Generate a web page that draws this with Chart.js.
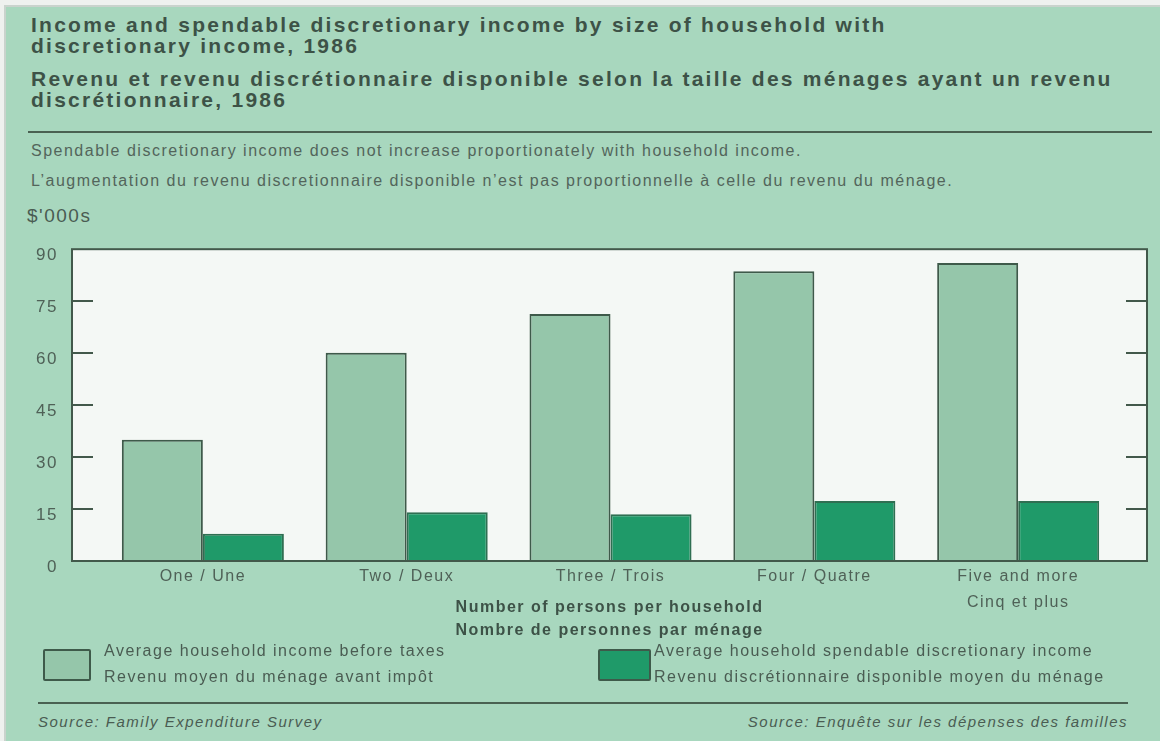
<!DOCTYPE html>
<html>
<head>
  <meta charset="UTF-8">
  <title>Income and spendable discretionary income, 1986</title>
  <script src="https://cdn.jsdelivr.net/npm/chart.js"></script>
  <style>
    html, body {
      margin: 0;
      padding: 0;
      width: 1160px;
      height: 741px;
      overflow: hidden;
      background: #eef1ef;
      font-family: "Liberation Sans", Arial, sans-serif;
    }
    .panel {
      position: absolute;
      left: 4px;
      top: 5px;
      width: 1160px;
      height: 741px;
      background: #a8d7be;
      border-left: 2px solid #c9d3cd;
      border-top: 2px solid #c9d3cd;
    }
    .abs { position: absolute; white-space: nowrap; }
    .title {
      left: 31px;
      font-weight: bold;
      font-size: 21px;
      line-height: 21px;
      color: #3d5247;
      letter-spacing: 2.25px;
    }
    .note {
      left: 31px;
      font-size: 16px;
      letter-spacing: 1.5px;
      color: #53655b;
    }
    .rule {
      position: absolute;
      height: 2px;
      background: #4a6152;
    }
    .units {
      left: 27px;
      top: 205px;
      font-size: 19px;
      letter-spacing: 1.5px;
      color: #4a5c52;
    }
    .swatch {
      position: absolute;
      box-sizing: border-box;
      border: 2px solid #3e5a4a;
      border-radius: 2px;
    }
    .legend {
      font-size: 16px;
      line-height: 26px;
      letter-spacing: 1.5px;
      color: #4a5c52;
    }
    .source {
      top: 713px;
      font-size: 15px;
      font-style: italic;
      letter-spacing: 1.5px;
      color: #4a5c52;
    }
    canvas { position: absolute; left: 0; top: 225px; }
  </style>
</head>
<body>
  <div class="panel"></div>

  <div class="abs title" style="top:14px">Income and spendable discretionary income by size of household with<br>discretionary income, 1986</div>
  <div class="abs title" style="top:68px">Revenu et revenu discrétionnaire disponible selon la taille des ménages ayant un revenu<br>discrétionnaire, 1986</div>
  <div class="rule" style="left:28px; top:131px; width:1124px"></div>

  <div class="abs note" style="top:142px">Spendable discretionary income does not increase proportionately with household income.</div>
  <div class="abs note" style="top:172px">L’augmentation du revenu discretionnaire disponible n’est pas proportionnelle à celle du revenu du ménage.</div>
  <div class="abs units">$'000s</div>

  <canvas id="chart" width="1160" height="417"></canvas>

  <div id="legend"></div>

  <div class="rule" style="left:38px; top:702px; width:1090px"></div>
  <div class="abs source" style="left:38px">Source: Family Expenditure Survey</div>
  <div class="abs source" style="right:32px">Source: Enquête sur les dépenses des familles</div>

  <script>
    // Household size categories (x axis)
    const categories = ['One / Une', 'Two / Deux', 'Three / Trois', 'Four / Quatre', ['Five and more', 'Cinq et plus']];

    // Values in thousands of dollars
    const incomeBeforeTaxes = [35.0, 60.1, 71.3, 83.6, 86.0];
    const spendableIncome = [7.9, 14.1, 13.5, 17.3, 17.3];

    const yTicks = [0, 15, 30, 45, 60, 75, 90];

    const seriesNames = [
      ['Average household income before taxes', 'Revenu moyen du ménage avant impôt'],
      ['Average household spendable discretionary income', 'Revenu discrétionnaire disponible moyen du ménage']
    ];

    const lightGreen = '#95c6aa';
    const darkGreen = '#1f9a69';
    const outline = '#3e5a4a';
    const fontFamily = '"Liberation Sans", Arial, sans-serif';

    // white plot background, frame around the chart area, inward ticks
    const plotFrame = {
      id: 'plotFrame',
      beforeDraw(chart) {
        // the printed lettering is loosely tracked
        chart.ctx.letterSpacing = '1.5px';
      },
      beforeDatasetsDraw(chart) {
        const { ctx, chartArea: a } = chart;
        ctx.save();
        ctx.fillStyle = '#f4f8f5';
        ctx.fillRect(a.left, a.top, a.right - a.left, a.bottom - a.top);
        ctx.restore();
      },
      afterDatasetsDraw(chart) {
        const { ctx, chartArea: a, scales } = chart;
        ctx.save();
        ctx.strokeStyle = '#42594b';
        ctx.lineWidth = 2;
        ctx.strokeRect(a.left, a.top, a.right - a.left, a.bottom - a.top);
        ctx.beginPath();
        scales.y.ticks.forEach(t => {
          if (t.value <= 0 || t.value >= 90) return;
          const y = Math.round(scales.y.getPixelForValue(t.value));
          ctx.moveTo(a.left, y); ctx.lineTo(a.left + 21, y);
          ctx.moveTo(a.right - 21, y); ctx.lineTo(a.right, y);
        });
        ctx.stroke();
        ctx.restore();
      }
    };

    const toPoints = arr => arr.map((v, i) => ({ x: i, y: v }));

    const chart = new Chart(document.getElementById('chart'), {
      type: 'bar',
      data: {
        datasets: [
          {
            label: seriesNames[0][0],
            data: toPoints(incomeBeforeTaxes),
            backgroundColor: lightGreen,
            borderColor: outline,
            borderWidth: 2
          },
          {
            label: seriesNames[1][0],
            data: toPoints(spendableIncome),
            backgroundColor: darkGreen,
            borderColor: '#2f6f52',
            borderWidth: 2
          }
        ]
      },
      options: {
        responsive: false,
        animation: false,
        devicePixelRatio: 1,
        categoryPercentage: 0.795,
        barPercentage: 1.0,
        layout: { padding: { top: 15, right: 13, left: 0, bottom: 0 } },
        plugins: {
          legend: { display: false },
          tooltip: { enabled: false }
        },
        scales: {
          x: {
            type: 'linear',
            offset: false,
            min: -0.642,
            max: 4.632,
            grid: { display: false, drawTicks: false },
            border: { display: false },
            ticks: {
              stepSize: 1,
              includeBounds: false,
              maxRotation: 0,
              autoSkip: false,
              padding: 3,
              color: '#4f6157',
              font: { family: fontFamily, size: 16, lineHeight: '26px' },
              callback: v => Number.isInteger(v) && v >= 0 && v < categories.length ? categories[v] : ''
            },
            title: {
              display: true,
              text: ['Number of persons per household', 'Nombre de personnes par ménage'],
              color: '#3d5247',
              padding: 0,
              font: { family: fontFamily, size: 16, weight: 'bold', lineHeight: '23px' }
            },
            afterFit(scale) { scale.height = 81; }
          },
          y: {
            min: 0,
            max: 90,
            afterBuildTicks(scale) { scale.ticks = yTicks.map(v => ({ value: v })); },
            grid: { display: false, drawTicks: false },
            border: { display: false },
            ticks: {
              padding: 14,
              labelOffset: 6,
              color: '#4f6157',
              font: { family: fontFamily, size: 17 }
            },
            afterFit(scale) { scale.width = 72; }
          }
        }
      },
      plugins: [plotFrame]
    });

    // legend below the axis title, built from the dataset styles
    const legendBoxes = [
      { left: 43, width: 48, textLeft: 104 },
      { left: 598, width: 53, textLeft: 654 }
    ];
    const legendEl = document.getElementById('legend');
    chart.data.datasets.forEach((ds, i) => {
      const box = legendBoxes[i];
      const sw = document.createElement('div');
      sw.className = 'swatch';
      sw.style.cssText = `left:${box.left}px; top:649px; width:${box.width}px; height:32px; background:${ds.backgroundColor}`;
      legendEl.appendChild(sw);
      const txt = document.createElement('div');
      txt.className = 'abs legend';
      txt.style.cssText = `left:${box.textLeft}px; top:638px`;
      txt.innerHTML = seriesNames[i].join('<br>');
      legendEl.appendChild(txt);
    });
  </script>
</body>
</html>
